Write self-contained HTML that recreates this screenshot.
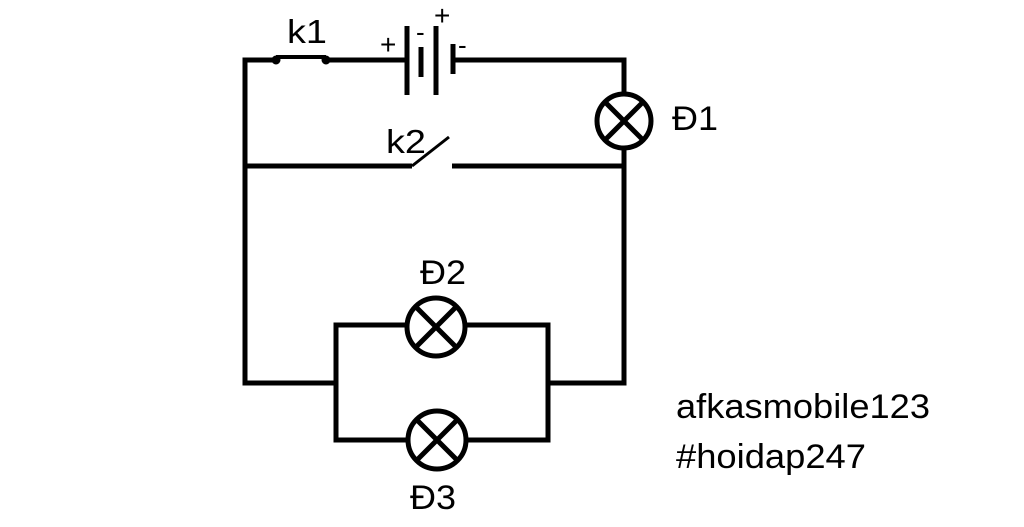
<!DOCTYPE html>
<html><head><meta charset="utf-8"><style>html,body{margin:0;padding:0;background:#fff}svg{display:block}</style></head>
<body>
<svg width="1024" height="527" viewBox="0 0 1024 527" xmlns="http://www.w3.org/2000/svg">
<g stroke="#000" stroke-width="5" fill="none" stroke-linecap="butt">
<polyline points="276,60 245,60 245,383 336,383"/>
<line x1="276" y1="57" x2="326" y2="57" stroke-width="4"/>
<circle cx="276" cy="60" r="2" fill="#000"/>
<circle cx="326" cy="60" r="2" fill="#000"/>
<line x1="326" y1="60" x2="407" y2="60"/>
<line x1="407" y1="26" x2="407" y2="95"/>
<line x1="421" y1="47" x2="421" y2="77"/>
<line x1="436" y1="26" x2="436" y2="95"/>
<line x1="453" y1="44" x2="453" y2="74"/>
<polyline points="453,60 624,60 624,94"/>
<circle cx="624" cy="121" r="27"/>
<line x1="605" y1="102" x2="643" y2="140"/>
<line x1="643" y1="102" x2="605" y2="140"/>
<polyline points="624,148 624,383 548,383"/>
<line x1="245" y1="166" x2="412" y2="166"/>
<line x1="412" y1="166" x2="449" y2="137" stroke-width="3"/>
<line x1="452" y1="166" x2="624" y2="166"/>
<polyline points="407,325 336,325 336,440 408,440"/>
<polyline points="465,325 548,325 548,440 466,440"/>
<circle cx="436" cy="327" r="29"/>
<line x1="416" y1="307" x2="456" y2="347"/>
<line x1="456" y1="307" x2="416" y2="347"/>
<circle cx="437" cy="440" r="29"/>
<line x1="417" y1="420" x2="457" y2="460"/>
<line x1="457" y1="420" x2="417" y2="460"/>
</g>
<g font-family="'Liberation Sans', sans-serif" fill="#000">
<text x="287" y="43" font-size="33" textLength="40" lengthAdjust="spacingAndGlyphs">k1</text>
<text x="380" y="54" font-size="28">+</text>
<text x="416" y="41" font-size="26">-</text>
<text x="434" y="25" font-size="28">+</text>
<text x="458" y="54" font-size="26">-</text>
<text x="386" y="153" font-size="33" textLength="40" lengthAdjust="spacingAndGlyphs">k2</text>
<text x="672" y="130" font-size="34" textLength="46" lengthAdjust="spacingAndGlyphs">Đ1</text>
<text x="420" y="284" font-size="34" textLength="46" lengthAdjust="spacingAndGlyphs">Đ2</text>
<text x="410" y="509" font-size="34" textLength="46" lengthAdjust="spacingAndGlyphs">Đ3</text>
<text x="676" y="418" font-size="34" textLength="254" lengthAdjust="spacingAndGlyphs">afkasmobile123</text>
<text x="676" y="468" font-size="34" textLength="190" lengthAdjust="spacingAndGlyphs">#hoidap247</text>
</g>
</svg>
</body></html>
